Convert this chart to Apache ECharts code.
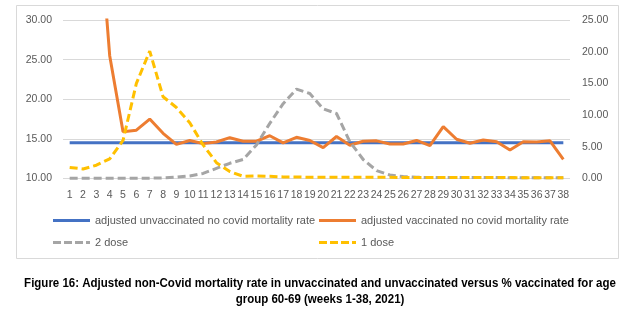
<!DOCTYPE html>
<html><head><meta charset="utf-8">
<script src="https://cdn.jsdelivr.net/npm/echarts@6/dist/echarts.min.js"></script>
<style>html,body{margin:0;padding:0;background:#fff}#c{width:639px;height:322px}</style>
</head><body><div id="c"></div>
<script>
const weeks = ['1','2','3','4','5','6','7','8','9','10','11','12','13','14','15','16','17','18','19','20','21','22','23','24','25','26','27','28','29','30','31','32','33','34','35','36','37','38'];
const unvaccinated = [14.5,14.5,14.5,14.5,14.5,14.5,14.5,14.5,14.5,14.5,14.5,14.5,14.5,14.5,14.5,14.5,14.5,14.5,14.5,14.5,14.5,14.5,14.5,14.5,14.5,14.5,14.5,14.5,14.5,14.5,14.5,14.5,14.5,14.5,14.5,14.5,14.5,14.5];
const vaccinated = [60,55,47,25.5,15.9,16.1,17.5,15.7,14.3,14.8,14.4,14.6,15.15,14.7,14.7,15.4,14.5,15.2,14.8,13.9,15.3,14.2,14.7,14.75,14.35,14.35,14.8,14.15,16.55,14.95,14.45,14.85,14.65,13.6,14.65,14.6,14.75,12.4];
const dose2 = [0.05,0.05,0.05,0.05,0.05,0.05,0.05,0.1,0.2,0.4,0.8,1.6,2.4,3.0,5.3,8.7,11.8,14.1,13.4,11.0,10.25,5.8,3.0,1.25,0.55,0.3,0.2,0.15,0.15,0.15,0.15,0.15,0.15,0.1,0.1,0.1,0.1,0.1];
const dose1 = [1.75,1.5,2.1,3.1,6.0,15.0,20.1,12.9,11.2,8.8,5.3,2.5,1.1,0.35,0.4,0.35,0.25,0.25,0.2,0.2,0.2,0.2,0.2,0.2,0.2,0.15,0.15,0.15,0.15,0.15,0.15,0.15,0.15,0.15,0.1,0.1,0.1,0.1];
const names = ['adjusted unvaccinated no covid mortality rate','adjusted vaccinated no covid mortality rate','2 dose','1 dose'];
const caption1 = 'Figure 16: Adjusted non-Covid mortality rate in unvaccinated and unvaccinated versus % vaccinated for age';
const caption2 = 'group 60-69 (weeks 1-38, 2021)';

const FONT = "'Liberation Sans', Arial, sans-serif";
const txt = {color:'#595959', fontSize:10.5, fontFamily:FONT};
const SOLID = 'path://M0,0h37v3h-37z';
const DASH = 'path://M0,0h8v3h-8zM11,0h8v3h-8zM22,0h8v3h-8zM33,0h4v3h-4z';
const chart = echarts.init(document.getElementById('c'), null, {renderer:'canvas'});
function leg(name, left, top, icon){
  return {data:[{name:name, icon:icon}], left:left, top:top, itemWidth:37, itemHeight:3, itemGap:0, padding:0,
    textStyle:Object.assign({}, txt, {fontSize:11}), selectedMode:false};
}
chart.setOption({
  animation:false,
  backgroundColor:'#fff',
  grid:{left:63, right:69, top:20, bottom:143.5},
  legend:[leg(names[0],53,215,SOLID), leg(names[1],319,215,SOLID), leg(names[2],53,237,DASH), leg(names[3],319,237,DASH)],
  xAxis:{type:'category', data:weeks, boundaryGap:true,
    axisLine:{show:false}, axisTick:{show:false},
    axisLabel:Object.assign({interval:0, margin:11}, txt)},
  yAxis:[
    {type:'value', min:10, max:30, interval:5, position:'left',
      axisLine:{show:false}, axisTick:{show:false},
      splitLine:{lineStyle:{color:'#d9d9d9', width:1}},
      axisLabel:Object.assign({margin:11, formatter:v=>v.toFixed(2)}, txt)},
    {type:'value', min:0, max:25, interval:5, position:'right',
      axisLine:{show:false}, axisTick:{show:false}, splitLine:{show:false},
      axisLabel:Object.assign({margin:12, formatter:v=>v.toFixed(2)}, txt)}
  ],
  series:[
    {name:names[0], type:'line', data:unvaccinated, yAxisIndex:0, symbol:'none',
      itemStyle:{color:'#4472C4'}, lineStyle:{color:'#4472C4', width:3}},
    {name:names[1], type:'line', data:vaccinated, yAxisIndex:0, symbol:'none', clip:true,
      itemStyle:{color:'#ED7D31'}, lineStyle:{color:'#ED7D31', width:3}},
    {name:names[2], type:'line', data:dose2, yAxisIndex:1, symbol:'none',
      itemStyle:{color:'#A5A5A5'}, lineStyle:{color:'#A5A5A5', width:3, type:[8,4]}},
    {name:names[3], type:'line', data:dose1, yAxisIndex:1, symbol:'none',
      itemStyle:{color:'#FFC000'}, lineStyle:{color:'#FFC000', width:3, type:[8,4]}}
  ],
  graphic:[
    {type:'rect', shape:{x:16.5, y:5.5, width:602, height:253}, style:{fill:null, stroke:'#d9d9d9', lineWidth:1}, silent:true, z:-1},
    {type:'text', x:320, y:284, scaleX:0.92, style:{text:caption1, fontFamily:FONT, fontWeight:'bold', fontSize:12.5, fill:'#000', align:'center', verticalAlign:'middle'}},
    {type:'text', x:320, y:300, scaleX:0.92, style:{text:caption2, fontFamily:FONT, fontWeight:'bold', fontSize:12.5, fill:'#000', align:'center', verticalAlign:'middle'}}
  ]
});
</script></body></html>
